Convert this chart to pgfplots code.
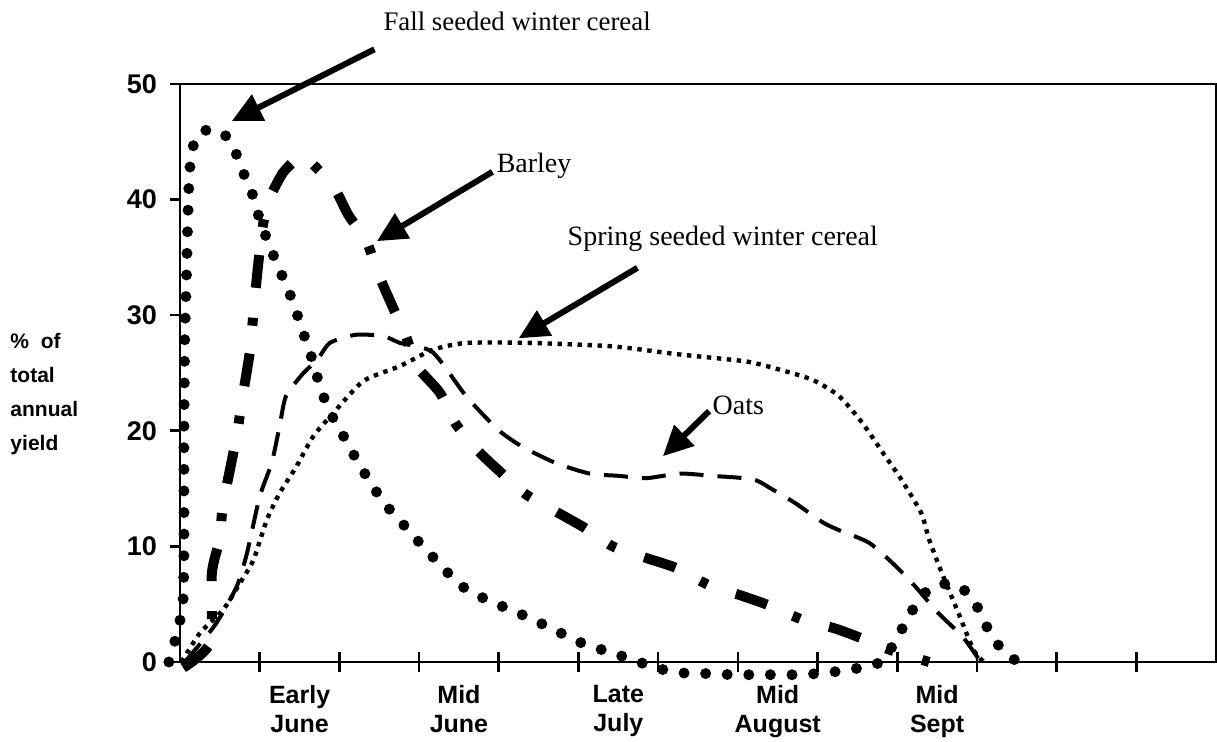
\documentclass[border=0pt]{standalone}
\usepackage{pgfplots}
\pgfplotsset{compat=1.18}
\usepackage{fontspec}
\setmainfont{Liberation Serif}
\newfontfamily\arial{Liberation Sans}
\usetikzlibrary{arrows.meta}
\begin{document}
\begin{tikzpicture}
\path[use as bounding box] (-90pt,-40pt) rectangle (518.5pt,331pt);
\begin{axis}[
  at={(0pt,0pt)}, anchor=south west,
  width=518pt, height=289pt, scale only axis,
  xmin=0, xmax=13, ymin=0, ymax=50,
  clip=false,
  axis line style={line width=1.3pt},
  tick style={line width=1.3pt, black},
  tick align=outside, major tick length=5pt,
  xtick pos=bottom, ytick pos=left,
  xtick={1,2,...,12},
  xticklabels={{Early\\June},{},{Mid\\June},{},{Late\\July},{},{Mid\\August},{},{Mid\\Sept},{},{},{}},
  xticklabel style={align=center, xshift=19.95pt, yshift=-3pt, font=\arial\bfseries\fontsize{12.5}{14.5}\selectfont},
  extra x ticks={1,2,...,12}, extra x tick labels={}, extra x tick style={tick align=inside},
  ytick={0,10,...,50},
  yticklabel style={font=\arial\bfseries\fontsize{13.5}{15}\selectfont, xshift=-3pt},
  /pgf/number format/assume math mode=true,
  ylabel={\% \ of\\total\\annual\\yield},
  ylabel style={rotate=-90, align=left, anchor=west, inner sep=0pt, at={(axis description cs:-0.164,0.464)}, font=\arial\bfseries\fontsize{10.5}{17}\selectfont},
]
% Fall seeded winter cereal
\addplot[black, line width=5.5pt, line cap=round, dash pattern=on 0pt off 10.8pt, smooth, tension=0.4] coordinates {
(-0.14,0) (-0.06,1.9) (0.0,3.6) (0.04,5.5) (0.05,10) (0.05,20) (0.06,28) (0.08,33) (0.10,38.8) (0.12,42.4) (0.16,44.5) (0.26,45.9) (0.51,45.9) (0.67,44.6) (0.76,42.8) (0.88,41.1) (0.95,39.4) (1.03,37.7) (1.13,35.9) (1.23,34.2) (1.34,32.5) (1.44,30.7) (1.52,29.0) (1.61,27.2) (1.69,25.5) (1.76,23.7) (1.86,22.0) (1.98,20.3) (2.12,18.8) (2.24,17.1) (2.39,15.6) (2.53,14.0) (2.71,12.6) (2.88,11.3) (3.06,9.9) (3.24,8.6) (3.42,7.3) (3.61,6.2) (3.88,5.3) (4.15,4.5) (4.39,3.8) (4.63,3.0) (4.87,2.2) (5.12,1.4) (5.38,0.9) (5.63,0.3) (5.89,-0.3) (6.14,-0.8) (6.40,-1.0) (6.65,-1.0) (6.93,-1.1) (7.20,-1.1) (7.48,-1.1) (7.74,-1.1) (8.00,-1.0) (8.27,-0.8) (8.53,-0.5) (8.79,0) (8.98,1.8) (9.10,3.4) (9.23,4.9) (9.40,6.3) (9.66,6.8) (9.90,5.9) (10.04,4.3) (10.15,2.7) (10.31,1.1) (10.51,0)
};
% Barley
\addplot[black, line width=5pt, dash pattern=on 16.5pt off 14pt on 4pt off 15pt, smooth, tension=0.4] coordinates {
(0.04,-0.5) (0.38,1.7) (0.40,7.7) (0.50,10.7) (0.54,13.6) (0.71,19.5) (0.77,22.3) (0.88,27) (0.93,30.9) (1.02,36.8) (1.10,39.7) (1.29,42.3) (1.50,43.7) (1.60,43.5) (1.92,41.2) (2.11,38.7) (2.34,36.4) (2.48,33.7) (2.67,30.7) (2.84,28.1) (2.97,25.6) (3.26,23.3) (3.45,20.7) (3.72,18.4) (4.01,16.5) (4.34,14.5) (4.72,13.0) (5.08,11.6) (5.43,10.0) (5.85,9.0) (6.24,8.1) (6.62,6.7) (7.02,5.8) (7.39,4.9) (7.83,3.6) (8.22,2.9) (8.61,1.9) (8.93,1.0) (9.40,0)
};
% Oats
\addplot[black, line width=2pt, dash pattern=on 12pt off 7pt, smooth, tension=0.4] coordinates {
(0.06,0) (0.44,3.2) (0.71,6.5) (0.84,9.4) (1.00,14.3) (1.15,17.2) (1.25,20.4) (1.33,23.0) (1.55,25.0) (1.72,26.1) (1.88,27.6) (2.20,28.3) (2.55,28.2) (2.76,27.6) (3.17,26.8) (3.59,23.0) (3.99,20.1) (4.30,18.6) (4.72,17.2) (5.14,16.3) (5.51,16.1) (5.85,15.9) (6.27,16.3) (6.68,16.1) (7.19,15.8) (7.44,14.9) (7.73,13.7) (8.06,12.1) (8.27,11.4) (8.65,10.3) (8.98,8.3) (9.23,6.5) (9.52,4.2) (9.82,2.2) (10.03,0.2) (10.10,0)
};
% Spring seeded winter cereal
\addplot[black, line width=2.2pt, dash pattern=on 2.2pt off 2.8pt, smooth, tension=0.4] coordinates {
(0.02,0) (0.25,2.5) (0.54,4.5) (0.75,6.8) (0.92,8.8) (1.09,12.3) (1.25,14.6) (1.46,16.9) (1.67,19.5) (1.92,21.5) (2.30,24.3) (2.76,25.6) (3.17,27.0) (3.59,27.6) (4.40,27.6) (5.43,27.3) (6.27,26.6) (7.10,26.0) (7.52,25.3) (7.94,24.4) (8.27,23.0) (8.56,20.7) (8.85,17.8) (9.05,15.8) (9.30,12.9) (9.40,10.6) (9.56,7.7) (9.77,4.2) (9.96,1.0) (10.09,0)
};
% annotations
\draw[line width=3pt, -{Triangle[length=15pt,width=14pt]}] (axis cs:2.44,53.0) -- (axis cs:0.65,46.8);
\draw[line width=3pt, -{Triangle[length=15pt,width=14pt]}] (axis cs:3.92,42.4) -- (axis cs:2.47,36.4);
\draw[line width=3pt, -{Triangle[length=15pt,width=14pt]}] (axis cs:5.74,34.1) -- (axis cs:4.25,28.0);
\draw[line width=3pt, -{Triangle[length=15pt,width=14pt]}] (axis cs:6.64,21.7) -- (axis cs:6.06,17.8);
\node[font=\fontsize{13.4}{16}\selectfont] at (axis cs:4.23,55.4) {Fall seeded winter cereal};
\node[font=\fontsize{14}{16}\selectfont, anchor=west, inner sep=0pt] at (axis cs:3.97,42.9) {Barley};
\node[font=\fontsize{14}{16}\selectfont, anchor=west, inner sep=0pt] at (axis cs:4.86,36.6) {Spring seeded winter cereal};
\node[font=\fontsize{14}{16}\selectfont, anchor=west, inner sep=0pt] at (axis cs:6.68,22.2) {Oats};
\end{axis}
\end{tikzpicture}
\end{document}
